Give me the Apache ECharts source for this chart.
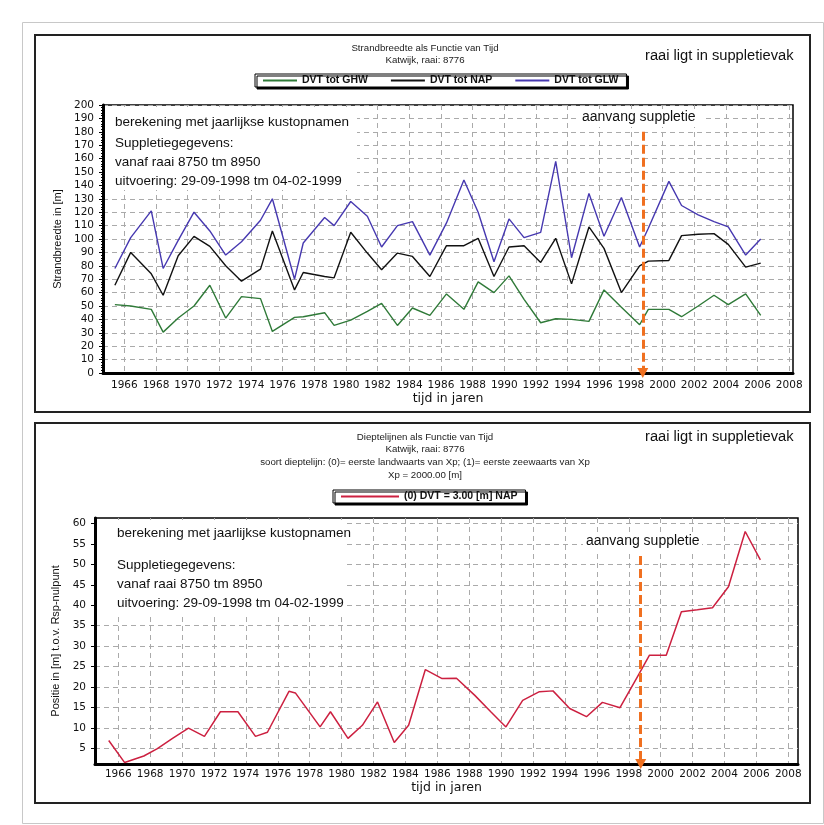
<!DOCTYPE html>
<html>
<head>
<meta charset="utf-8">
<script src="https://cdn.jsdelivr.net/npm/echarts@6/dist/echarts.min.js"></script>
<style>
  html, body { margin: 0; padding: 0; background: #fff; }
  #chart { width: 824px; height: 825px; }
</style>
</head>
<body>
<div id="chart"></div>
<script>
// Katwijk, raai 8776 — strandbreedte per niveau (jaarlijkse kustopnamen)
const beachYears = [1965.4, 1966.4, 1967.7, 1968.45, 1969.4, 1970.4, 1971.4, 1972.4, 1973.4, 1974.6,
  1975.35, 1976.75, 1977.3, 1978.65, 1979.25, 1980.3, 1981.35, 1982.25, 1983.25, 1984.2,
  1985.3, 1986.35, 1987.45, 1988.35, 1989.35, 1990.3, 1991.25, 1992.3, 1993.25, 1994.25,
  1995.35, 1996.3, 1997.4, 1998.55, 1999.1, 2000.4, 2001.2, 2002.25, 2003.25, 2004.15,
  2005.25, 2006.2];
const widthGHW = [51, 50, 47.5, 30.5, 41, 50, 65.5, 41, 57, 55.5,
  31, 41.5, 42, 45, 35.5, 39.5, 46, 52, 35.5, 48.5,
  43, 59, 47.5, 68, 60, 72.5, 55, 37.5, 40.5, 40,
  38.5, 62, 49, 36, 47.5, 47.5, 42, 50, 58, 51,
  59, 43];
const widthNAP = [65.5, 90, 74, 58, 87.5, 102, 94.5, 80, 68.5, 77.5,
  106, 62, 75, 72, 71, 105, 89.5, 77, 89.5, 87,
  72, 95, 95, 100.5, 72, 94, 95, 82.5, 100.5, 66.5,
  109, 93, 60, 80, 83.5, 84, 102.5, 103.5, 104, 96,
  79, 82];
const widthGLW = [78, 101, 121, 78, 99, 120, 106, 88, 98, 114,
  130, 70, 97, 116, 110, 128, 117, 94, 110, 113,
  88, 112, 144, 120, 83, 115, 101, 105, 158, 86,
  134, 102, 131, 94, 108, 143, 125, 118, 113, 109,
  88, 100];

// Positie van de dieptelijn 3.00 m NAP
const depthYears = [1965.4, 1966.4, 1967.6, 1968.45, 1969.4, 1970.4, 1971.4, 1972.4, 1973.5, 1974.6,
  1975.35, 1976.7, 1977.1, 1978.65, 1979.3, 1980.4, 1981.3, 1982.25, 1983.3, 1984.2,
  1985.25, 1986.3, 1987.2, 1988.35, 1989.35, 1990.3, 1991.35, 1992.4, 1993.25, 1994.3,
  1995.35, 1996.35, 1997.45, 1998.55, 1999.3, 2000.35, 2001.3, 2002.3, 2003.25, 2004.25,
  2005.3, 2006.25];
const depthNAP3 = [7, 1.6, 3.2, 5, 7.5, 10, 8, 14, 14, 8,
  9, 19, 18.6, 10.3, 14, 7.5, 10.7, 16.4, 6.5, 10.7,
  24.3, 22.1, 22.2, 18, 14, 10.3, 16.8, 18.9, 19.1, 14.8,
  12.8, 16.3, 15, 22.6, 27.8, 27.8, 38.4, 38.9, 39.4, 44.5,
  58, 51.1];

// Tick labels
const yearTicks = [1966, 1968, 1970, 1972, 1974, 1976, 1978, 1980, 1982, 1984, 1986, 1988,
  1990, 1992, 1994, 1996, 1998, 2000, 2002, 2004, 2006, 2008];
const depthTicks = [5, 10, 15, 20, 25, 30, 35, 40, 45, 50, 55, 60];

// Start suppletie (29-09-1998) and the value range of the marker arrows
const supplStart = 1998.75;
const arrowWidthTop = 180;
const arrowDepthTop = 52;
const depthAxisMin = 1.25;
const depthAxisMax = 61.3;

const pairs = (xs, ys) => xs.map((x, i) => [x, ys[i]]);

const TICK_FONT = 'DejaVu Sans';
const TEXT_FONT = 'Liberation Sans, Arial, sans-serif';

function xAxisFor(gridIndex, min, max, labelMargin, nameGap) {
  return {
    type: 'value', gridIndex, min, max,
    name: 'tijd in jaren', nameLocation: 'middle', nameGap,
    nameTextStyle: { fontFamily: TICK_FONT, fontSize: 12.5, color: '#111' },
    axisLine: { show: true, onZero: false, lineStyle: { color: '#000', width: 3 } },
    axisTick: { show: true, customValues: yearTicks, length: 2, lineStyle: { color: '#000' } },
    axisLabel: { customValues: yearTicks, margin: labelMargin, fontFamily: TICK_FONT, fontSize: 10.5, color: '#111',
      formatter: v => String(Math.round(v)) },
    splitLine: { show: true, lineStyle: { color: '#aaa', width: 1, type: [5, 4] } }
  };
}

const commonDashed = { color: '#aaa', width: 1, type: [5, 4] };

// legend entries are drawn as short horizontal strokes
const legendBase = {
  orient: 'horizontal', icon: 'rect', itemHeight: 2,
  backgroundColor: '#fff', borderColor: '#000', borderWidth: 1,
  shadowColor: '#000', shadowBlur: 0, shadowOffsetX: 2, shadowOffsetY: 2,
  textStyle: { fontFamily: TEXT_FONT, fontWeight: 'bold', fontSize: 10.5, color: '#111' }
};

const option = {
  backgroundColor: '#fff',
  animation: false,
  grid: [
    { left: 103, top: 105, width: 690, height: 268, show: true, borderColor: '#000', borderWidth: 1.5, backgroundColor: '#fff' },
    { left: 95, top: 518, width: 703, height: 246, show: true, borderColor: '#000', borderWidth: 1.5, backgroundColor: '#fff' }
  ],
  legend: [
    Object.assign({}, legendBase, {
      data: ['DVT tot GHW', 'DVT tot NAP', 'DVT tot GLW'],
      left: 255, top: 74, itemWidth: 34, itemGap: 23, padding: [1, 8, 1, 8]
    }),
    Object.assign({}, legendBase, {
      data: ['(0) DVT = 3.00 [m] NAP'],
      left: 333, top: 490, itemWidth: 58, padding: [1, 8, 1, 8]
    })
  ],
  xAxis: [
    xAxisFor(0, 1964.65, 2008.24, 7, 16),
    xAxisFor(1, 1964.54, 2008.61, 5, 17)
  ],
  yAxis: [
    {
      type: 'value', gridIndex: 0, min: 0, max: 200, interval: 10,
      name: 'Strandbreedte in [m]', nameLocation: 'middle', nameGap: 34,
      nameTextStyle: { fontFamily: TEXT_FONT, fontSize: 11, color: '#111' },
      axisLine: { show: true, onZero: false, lineStyle: { color: '#000', width: 3 } },
      axisTick: { show: true, length: 4, lineStyle: { color: '#000' } },
      minorTick: { show: true, splitNumber: 5, length: 2, lineStyle: { color: '#000' } },
      axisLabel: { margin: 9, fontFamily: TICK_FONT, fontSize: 10.5, color: '#111' },
      splitLine: { show: true, lineStyle: commonDashed }
    },
    {
      type: 'value', gridIndex: 1, min: depthAxisMin, max: depthAxisMax,
      name: 'Positie in [m] t.o.v. Rsp-nulpunt', nameLocation: 'middle', nameGap: 25,
      nameTextStyle: { fontFamily: TEXT_FONT, fontSize: 11, color: '#111' },
      axisLine: { show: true, onZero: false, lineStyle: { color: '#000', width: 3 } },
      axisTick: { show: true, customValues: depthTicks, length: 4, lineStyle: { color: '#000' } },
      axisLabel: { customValues: depthTicks, margin: 9, fontFamily: TICK_FONT, fontSize: 10.5, color: '#111' },
      splitLine: { show: true, lineStyle: commonDashed }
    }
  ],
  series: [
    {
      name: 'DVT tot GHW', type: 'line', xAxisIndex: 0, yAxisIndex: 0, z: 4,
      data: pairs(beachYears, widthGHW), symbol: 'none',
      lineStyle: { color: '#2f7a38', width: 1.4 }, itemStyle: { color: '#2f7a38' }
    },
    {
      name: 'DVT tot NAP', type: 'line', xAxisIndex: 0, yAxisIndex: 0, z: 4,
      data: pairs(beachYears, widthNAP), symbol: 'none',
      lineStyle: { color: '#111', width: 1.4 }, itemStyle: { color: '#111' },
      markLine: {
        silent: true, symbol: ['none', 'triangle'], symbolSize: [11, 10],
        label: { show: false },
        lineStyle: { color: '#f07020', width: 3, type: [9, 4] },
        data: [[{ coord: [supplStart, arrowWidthTop] }, { coord: [supplStart, 0] }]]
      }
    },
    {
      name: 'DVT tot GLW', type: 'line', xAxisIndex: 0, yAxisIndex: 0, z: 4,
      data: pairs(beachYears, widthGLW), symbol: 'none',
      lineStyle: { color: '#4638b0', width: 1.4 }, itemStyle: { color: '#4638b0' }
    },
    {
      name: '(0) DVT = 3.00 [m] NAP', type: 'line', xAxisIndex: 1, yAxisIndex: 1, z: 4,
      data: pairs(depthYears, depthNAP3), symbol: 'none',
      lineStyle: { color: '#cc2040', width: 1.5 }, itemStyle: { color: '#cc2040' },
      markLine: {
        silent: true, symbol: ['none', 'triangle'], symbolSize: [11, 10],
        label: { show: false },
        lineStyle: { color: '#f07020', width: 3, type: [9, 4] },
        data: [[{ coord: [supplStart, arrowDepthTop] }, { coord: [supplStart, depthAxisMin] }]]
      }
    }
  ],
  graphic: [
    // page and panel frames
    { type: 'rect', z: 0, shape: { x: 22.5, y: 22.5, width: 801, height: 801 }, style: { fill: 'none', stroke: '#c8c8c8', lineWidth: 1 } },
    { type: 'rect', z: 0, shape: { x: 35, y: 35, width: 775, height: 377 }, style: { fill: 'none', stroke: '#222', lineWidth: 2 } },
    { type: 'rect', z: 0, shape: { x: 35, y: 423, width: 775, height: 380 }, style: { fill: 'none', stroke: '#222', lineWidth: 2 } },

    // white panes behind the annotation text inside the plots
    { type: 'rect', z: 1, shape: { x: 105, y: 107, width: 252, height: 83 }, style: { fill: '#fff' } },
    { type: 'rect', z: 1, shape: { x: 578, y: 109, width: 128, height: 18 }, style: { fill: '#fff' } },
    { type: 'rect', z: 1, shape: { x: 97, y: 520, width: 250, height: 93 }, style: { fill: '#fff' } },
    { type: 'rect', z: 1, shape: { x: 583, y: 532, width: 119, height: 18 }, style: { fill: '#fff' } },

    // titles, top panel
    { type: 'text', z: 10, x: 425, y: 48, style: { text: 'Strandbreedte als Functie van Tijd', font: '9.7px ' + TEXT_FONT, fill: '#222', textAlign: 'center', textVerticalAlign: 'middle' } },
    { type: 'text', z: 10, x: 425, y: 60, style: { text: 'Katwijk, raai: 8776', font: '9.7px ' + TEXT_FONT, fill: '#222', textAlign: 'center', textVerticalAlign: 'middle' } },
    { type: 'text', z: 10, x: 645, y: 56, style: { text: 'raai ligt in suppletievak', font: '14.7px ' + TEXT_FONT, fill: '#111', textAlign: 'left', textVerticalAlign: 'middle' } },

    // annotations, top panel
    { type: 'text', z: 10, x: 115, y: 122, style: { text: 'berekening met jaarlijkse kustopnamen', font: '13.5px ' + TEXT_FONT, fill: '#111', textVerticalAlign: 'middle' } },
    { type: 'text', z: 10, x: 115, y: 143, style: { text: 'Suppletiegegevens:', font: '13.5px ' + TEXT_FONT, fill: '#111', textVerticalAlign: 'middle' } },
    { type: 'text', z: 10, x: 115, y: 162, style: { text: 'vanaf raai 8750 tm 8950', font: '13.5px ' + TEXT_FONT, fill: '#111', textVerticalAlign: 'middle' } },
    { type: 'text', z: 10, x: 115, y: 181, style: { text: 'uitvoering: 29-09-1998 tm 04-02-1999', font: '13.5px ' + TEXT_FONT, fill: '#111', textVerticalAlign: 'middle' } },
    { type: 'text', z: 10, x: 582, y: 117, style: { text: 'aanvang suppletie', font: '14px ' + TEXT_FONT, fill: '#111', textVerticalAlign: 'middle' } },

    // titles, bottom panel
    { type: 'text', z: 10, x: 425, y: 437, style: { text: 'Dieptelijnen als Functie van Tijd', font: '9.7px ' + TEXT_FONT, fill: '#222', textAlign: 'center', textVerticalAlign: 'middle' } },
    { type: 'text', z: 10, x: 425, y: 449, style: { text: 'Katwijk, raai: 8776', font: '9.7px ' + TEXT_FONT, fill: '#222', textAlign: 'center', textVerticalAlign: 'middle' } },
    { type: 'text', z: 10, x: 425, y: 462, style: { text: 'soort dieptelijn: (0)= eerste landwaarts van Xp; (1)= eerste zeewaarts van Xp', font: '9.7px ' + TEXT_FONT, fill: '#222', textAlign: 'center', textVerticalAlign: 'middle' } },
    { type: 'text', z: 10, x: 425, y: 475, style: { text: 'Xp = 2000.00 [m]', font: '9.7px ' + TEXT_FONT, fill: '#222', textAlign: 'center', textVerticalAlign: 'middle' } },
    { type: 'text', z: 10, x: 645, y: 437, style: { text: 'raai ligt in suppletievak', font: '14.7px ' + TEXT_FONT, fill: '#111', textAlign: 'left', textVerticalAlign: 'middle' } },

    // annotations, bottom panel
    { type: 'text', z: 10, x: 117, y: 533, style: { text: 'berekening met jaarlijkse kustopnamen', font: '13.5px ' + TEXT_FONT, fill: '#111', textVerticalAlign: 'middle' } },
    { type: 'text', z: 10, x: 117, y: 565, style: { text: 'Suppletiegegevens:', font: '13.5px ' + TEXT_FONT, fill: '#111', textVerticalAlign: 'middle' } },
    { type: 'text', z: 10, x: 117, y: 584, style: { text: 'vanaf raai 8750 tm 8950', font: '13.5px ' + TEXT_FONT, fill: '#111', textVerticalAlign: 'middle' } },
    { type: 'text', z: 10, x: 117, y: 603, style: { text: 'uitvoering: 29-09-1998 tm 04-02-1999', font: '13.5px ' + TEXT_FONT, fill: '#111', textVerticalAlign: 'middle' } },
    { type: 'text', z: 10, x: 586, y: 541, style: { text: 'aanvang suppletie', font: '14px ' + TEXT_FONT, fill: '#111', textVerticalAlign: 'middle' } }
  ]
};

const chart = echarts.init(document.getElementById('chart'), null, { renderer: 'canvas' });
chart.setOption(option);
</script>
</body>
</html>
